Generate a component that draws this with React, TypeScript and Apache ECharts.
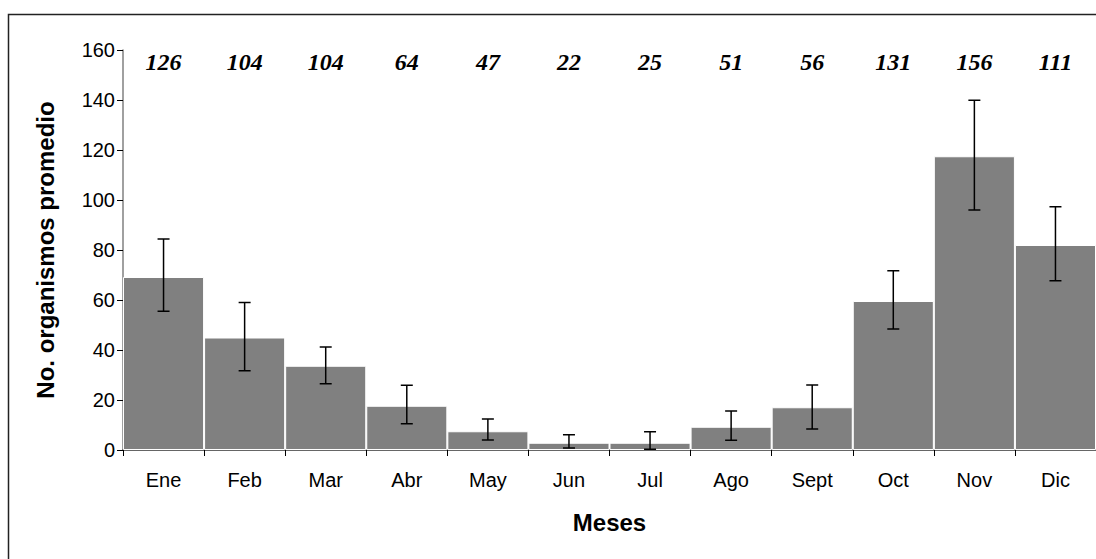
import React, { useEffect, useRef } from "react";
import * as echarts from "echarts";

const months = ["Ene", "Feb", "Mar", "Abr", "May", "Jun", "Jul", "Ago", "Sept", "Oct", "Nov", "Dic"];
const means = [69.2, 45, 33.7, 17.7, 7.5, 2.9, 2.9, 9.3, 17.1, 59.6, 117.5, 82];
const errLow = [55.5, 31.7, 26.5, 10.5, 4, 0.8, 0.3, 3.9, 8.4, 48.4, 96, 67.7];
const errHigh = [84.4, 59, 41.2, 25.9, 12.4, 6.1, 7.3, 15.6, 26, 71.7, 139.9, 97.3];
const counts = ["126", "104", "104", "64", "47", "22", "25", "51", "56", "131", "156", "111"];
const yTicks = { min: 0, max: 160, interval: 20 };

export default function App() {
  const ref = useRef<HTMLDivElement>(null);
  useEffect(() => {
    if (!ref.current) return;
    const chart = echarts.init(ref.current, undefined, { renderer: "svg" });
    const errData = months.map((_, i) => [i, errLow[i], errHigh[i]]);
    chart.setOption({
      animation: false,
      backgroundColor: "#fff",
      textStyle: { fontFamily: "Liberation Sans, Arial, sans-serif" },
      grid: { left: 123, right: 0, top: 50, bottom: 109, containLabel: false },
      graphic: [
        {
          type: "rect",
          shape: { x: 8.5, y: 14.5, width: 1200, height: 700 },
          style: { fill: "none", stroke: "#222", lineWidth: 1.5 },
          z: 100,
          silent: true,
        },
      ],
      xAxis: [
        {
          type: "category",
          data: months,
          position: "bottom",
          name: "Meses",
          nameLocation: "middle",
          nameGap: 60,
          nameTextStyle: { fontSize: 24, fontWeight: "bold", color: "#000" },
          axisLine: { lineStyle: { color: "#333", width: 1.5 } },
          axisTick: { show: true, length: 6, lineStyle: { color: "#000" } },
          axisLabel: { fontSize: 20, color: "#000", margin: 20 },
        },
        {
          type: "category",
          data: counts,
          position: "top",
          axisLine: { show: false },
          axisTick: { show: false },
          axisLabel: {
            inside: true,
            margin: 0,
            fontSize: 24,
            fontWeight: "bold",
            fontStyle: "italic",
            fontFamily: "Liberation Serif, Times New Roman, serif",
            color: "#000",
          },
        },
      ],
      yAxis: {
        type: "value",
        min: yTicks.min,
        max: yTicks.max,
        interval: yTicks.interval,
        name: "No. organismos promedio",
        nameLocation: "middle",
        nameGap: 66,
        nameTextStyle: { fontSize: 24, fontWeight: "bold", color: "#000" },
        axisLine: { show: true, lineStyle: { color: "#808080", width: 1.5 } },
        axisTick: { show: true, length: 6, lineStyle: { color: "#000" } },
        axisLabel: { fontSize: 20, color: "#000", margin: 8 },
        splitLine: { show: false },
      },
      series: [
        {
          type: "bar",
          data: means,
          barCategoryGap: "0%",
          itemStyle: { color: "#808080", borderColor: "#fff", borderWidth: 1 },
          z: 2,
        },
        {
          type: "custom",
          data: errData,
          z: 5,
          renderItem: (params: any, api: any) => {
            const x = api.value(0);
            const lo = api.coord([x, api.value(1)]);
            const hi = api.coord([x, api.value(2)]);
            const w = 6;
            const style = { stroke: "#000", lineWidth: 1.5 };
            return {
              type: "group",
              children: [
                { type: "line", shape: { x1: lo[0], y1: lo[1], x2: hi[0], y2: hi[1] }, style },
                { type: "line", shape: { x1: lo[0] - w, y1: lo[1], x2: lo[0] + w, y2: lo[1] }, style },
                { type: "line", shape: { x1: hi[0] - w, y1: hi[1], x2: hi[0] + w, y2: hi[1] }, style },
              ],
            };
          },
        },
      ],
    });
    return () => chart.dispose();
  }, []);
  return (
    <div
      ref={ref}
      style={{ position: "absolute", left: 0, top: 0, width: 1096, height: 559 }}
    />
  );
}
